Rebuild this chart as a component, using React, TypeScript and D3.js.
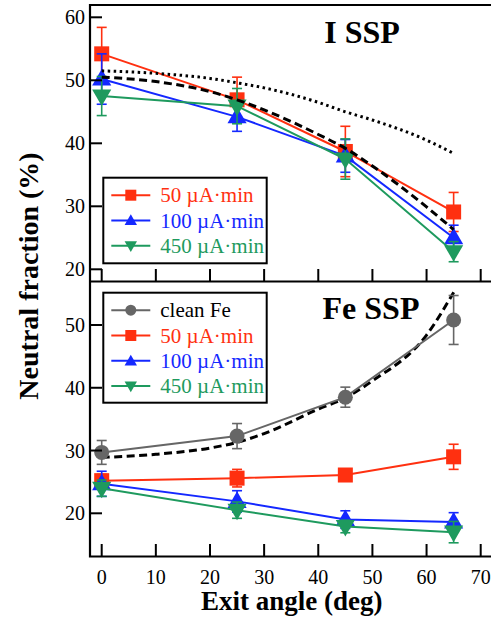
import React from "react";
import * as d3 from "d3";

const angles = [0, 25, 45, 65];
const xTicks = [0, 10, 20, 30, 40, 50, 60, 70];
const topYTicks = [20, 30, 40, 50, 60];
const botYTicks = [20, 30, 40, 50];

// I SSP panel
const iRed = [54.2, 46.9, 38.7, 29.1];
const iRedErr = [4.2, 3.6, 4.0, 3.1];
const iBlue = [50.2, 44.2, 38.0, 25.0];
const iBlueErr = [4.0, 2.3, 2.6, 2.0];
const iGreen = [47.5, 45.9, 37.5, 22.8];
const iGreenErr = [3.1, 2.8, 3.2, 1.6];

const iDashX = [0, 10, 20, 25, 30, 40, 45, 50, 60, 65];
const iDashY = [50.5, 49.8, 48.2, 46.9, 45.3, 41.4, 39.2, 36.4, 29.9, 26.3];
const iDotX = [0, 10, 20, 25, 30, 40, 45, 50, 60, 65];
const iDotY = [51.5, 51.1, 50.3, 49.6, 48.8, 46.5, 45.0, 43.7, 40.5, 38.4];

// Fe SSP panel
const feGray = [29.7, 32.3, 38.5, 50.8];
const feGrayErr = [1.9, 2.0, 1.6, 3.9];
const feRed = [25.2, 25.6, 26.1, 29.0];
const feRedErr = [1.0, 1.4, 0.7, 2.0];
const feBlue = [24.7, 21.9, 19.0, 18.6];
const feBlueErr = [2.0, 1.7, 1.4, 1.5];
const feGreen = [24.0, 20.5, 17.9, 17.0];
const feGreenErr = [1.3, 1.3, 1.0, 1.7];

const feDashX = [0, 10, 20, 25, 30, 40, 45, 50, 60, 65];
const feDashY = [28.9, 29.4, 30.4, 31.3, 32.7, 36.6, 38.4, 41.1, 48.4, 55.2];

const labels = ["clean Fe", "50 \u00b5A\u00b7min", "100 \u00b5A\u00b7min", "450 \u00b5A\u00b7min"];

const RED = "#ff3010";
const BLUE = "#1428ff";
const GREEN = "#1e9a5e";
const GRAY = "#666666";
const FONT = "'Liberation Serif', 'Times New Roman', serif";

const L = 90;
const R = 495;
const topY0 = 5, topY1 = 281.5;
const botY0 = 281.5, botY1 = 556.5;

const x = d3.scaleLinear().domain([0, 70]).range([101.7, 480.7]);
const yTop = d3.scaleLinear().domain([20, 60]).range([269.3, 17.3]);
const yBot = d3.scaleLinear().domain([20, 50]).range([513.3, 325]);

type Shape = "circle" | "square" | "up" | "down";

function Marker({ cx, cy, shape, color, size }: { cx: number; cy: number; shape: Shape; color: string; size: number }) {
  if (shape === "circle") return <circle cx={cx} cy={cy} r={size / 2} fill={color} />;
  if (shape === "square")
    return <rect x={cx - size / 2} y={cy - size / 2} width={size} height={size} fill={color} />;
  const sym = d3.symbol().type(d3.symbolTriangle).size(size * size * 0.55)();
  return (
    <path
      d={sym || ""}
      transform={`translate(${cx},${cy + (shape === "up" ? 1 : -1)}) rotate(${shape === "down" ? 180 : 0})`}
      fill={color}
    />
  );
}

function Series({ vals, errs, y, color, shape, size }: any) {
  const line = d3
    .line<number>()
    .x((_, i) => x(angles[i]))
    .y((v) => y(v));
  return (
    <g>
      <path d={line(vals) || ""} fill="none" stroke={color} strokeWidth={2} />
      {vals.map((v: number, i: number) => {
        const cx = x(angles[i]);
        const t = y(v + errs[i]);
        const b = y(v - errs[i]);
        return (
          <g key={i} stroke={color} strokeWidth={1.6}>
            <line x1={cx} x2={cx} y1={t} y2={b} />
            <line x1={cx - 5} x2={cx + 5} y1={t} y2={t} />
            <line x1={cx - 5} x2={cx + 5} y1={b} y2={b} />
          </g>
        );
      })}
      {vals.map((v: number, i: number) => (
        <Marker key={i} cx={x(angles[i])} cy={y(v)} shape={shape} color={color} size={size} />
      ))}
    </g>
  );
}

function Model({ xs, ys, y, dash }: any) {
  const line = d3
    .line<number>()
    .x((_, i) => x(xs[i]))
    .y((v) => y(v))
    .curve(d3.curveMonotoneX);
  return <path d={line(ys) || ""} fill="none" stroke="#000" strokeWidth={3} strokeDasharray={dash} />;
}

function Legend({ x0, y0, w, h, items }: any) {
  return (
    <g>
      <rect x={x0} y={y0} width={w} height={h} fill="#fff" stroke="#000" strokeWidth={2} />
      {items.map((it: any, i: number) => {
        const cy = y0 + 17.5 + i * 25.3;
        return (
          <g key={i}>
            <line x1={x0 + 8} x2={x0 + 47} y1={cy} y2={cy} stroke={it.color} strokeWidth={2} />
            <Marker cx={x0 + 27.5} cy={cy} shape={it.shape} color={it.color} size={11} />
            <text x={x0 + 57} y={cy + 7} fontSize={21} fontFamily={FONT} fill={it.textColor}>
              {it.label}
            </text>
          </g>
        );
      })}
    </g>
  );
}

export default function App() {
  return (
    <svg
      width={491}
      height={620}
      style={{ position: "absolute", left: 0, top: 0, background: "#fff" }}
    >
      <rect width={491} height={620} fill="#fff" />
      {/* Top panel */}
      <g>
        <Series vals={iRed} errs={iRedErr} y={yTop} color={RED} shape="square" size={15} />
        <Series vals={iBlue} errs={iBlueErr} y={yTop} color={BLUE} shape="up" size={17} />
        <Series vals={iGreen} errs={iGreenErr} y={yTop} color={GREEN} shape="down" size={17} />
        <Model xs={iDotX} ys={iDotY} y={yTop} dash="2.5,3.5" />
        <Model xs={iDashX} ys={iDashY} y={yTop} dash="8,4.5" />
        <text x={362} y={43} textAnchor="middle" fontSize={32} fontWeight="bold" fontFamily={FONT}>
          I SSP
        </text>
        <Legend
          x0={103.3}
          y0={177.7}
          w={163.4}
          h={85.6}
          items={[
            { label: labels[1], color: RED, textColor: RED, shape: "square" },
            { label: labels[2], color: BLUE, textColor: BLUE, shape: "up" },
            { label: labels[3], color: GREEN, textColor: GREEN, shape: "down" },
          ]}
        />
        {topYTicks.map((t) => (
          <g key={t}>
            <line x1={L} x2={L + 12} y1={yTop(t)} y2={yTop(t)} stroke="#000" strokeWidth={2} />
            <text x={85} y={yTop(t) + 7} textAnchor="end" fontSize={20} fontFamily={FONT}>
              {t}
            </text>
          </g>
        ))}
        {xTicks.map((t) => (
          <line key={t} x1={x(t)} x2={x(t)} y1={topY1} y2={topY1 - 12.5} stroke="#000" strokeWidth={2} />
        ))}
      </g>
      {/* Bottom panel */}
      <g>
        <Model xs={feDashX} ys={feDashY} y={yBot} dash="8,4.5" />
        <Series vals={feGray} errs={feGrayErr} y={yBot} color={GRAY} shape="circle" size={15} />
        <Series vals={feRed} errs={feRedErr} y={yBot} color={RED} shape="square" size={15} />
        <Series vals={feBlue} errs={feBlueErr} y={yBot} color={BLUE} shape="up" size={17} />
        <Series vals={feGreen} errs={feGreenErr} y={yBot} color={GREEN} shape="down" size={17} />
        <text x={371} y={319} textAnchor="middle" fontSize={32} fontWeight="bold" fontFamily={FONT}>
          Fe SSP
        </text>
        <Legend
          x0={103.3}
          y0={292.7}
          w={163.4}
          h={110}
          items={[
            { label: labels[0], color: GRAY, textColor: "#000", shape: "circle" },
            { label: labels[1], color: RED, textColor: RED, shape: "square" },
            { label: labels[2], color: BLUE, textColor: BLUE, shape: "up" },
            { label: labels[3], color: GREEN, textColor: GREEN, shape: "down" },
          ]}
        />
        {botYTicks.map((t) => (
          <g key={t}>
            <line x1={L} x2={L + 12} y1={yBot(t)} y2={yBot(t)} stroke="#000" strokeWidth={2} />
            <text x={85} y={yBot(t) + 7} textAnchor="end" fontSize={20} fontFamily={FONT}>
              {t}
            </text>
          </g>
        ))}
        {xTicks.map((t) => (
          <g key={t}>
            <line x1={x(t)} x2={x(t)} y1={botY1} y2={botY1 - 12.5} stroke="#000" strokeWidth={2} />
            <text x={x(t)} y={583.5} textAnchor="middle" fontSize={20} fontFamily={FONT}>
              {t}
            </text>
          </g>
        ))}
      </g>
      {/* Frames */}
      <path
        d={`M${R},${topY0}H${L}V${botY1}H${R}M${L},${topY1}H${R}`}
        fill="none"
        stroke="#000"
        strokeWidth={2.2}
      />
      <text x={291.7} y={610} textAnchor="middle" fontSize={27} fontWeight="bold" fontFamily={FONT}>
        Exit angle (deg)
      </text>
      <text
        transform={`translate(38,276) rotate(-90)`}
        textAnchor="middle"
        fontSize={28}
        fontWeight="bold"
        fontFamily={FONT}
      >
        Neutral fraction (%)
      </text>
    </svg>
  );
}
